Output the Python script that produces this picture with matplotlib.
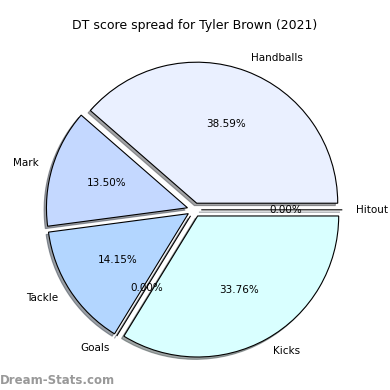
import matplotlib
matplotlib.use("Agg")
import matplotlib.pyplot as plt

# DT score spread, Tyler Brown (2021)
labels = ["Handballs", "Mark", "Tackle", "Goals", "Kicks", "Hitout"]
shares = [38.59, 13.50, 14.15, 0.00, 33.76, 0.00]
colors = ["#eaf0ff", "#c4d8ff", "#b3d6ff", "#a6ccff", "#d9ffff", "#cce6ff"]
explode = [0.05] * len(labels)

fig = plt.figure(figsize=(3.9, 3.9), dpi=100)
ax = fig.add_axes([0.046, 0.01, 0.904, 0.904])
ax.pie(shares, labels=labels, colors=colors, explode=explode,
       autopct="%.2f%%", shadow={"ox": -0.012, "oy": -0.012, "shade": 0.7},
       startangle=0, counterclock=True,
       wedgeprops={"edgecolor": "black", "linewidth": 0.8},
       textprops={"fontsize": 7.5})
ax.set_aspect("equal")
ax.set_title("DT score spread for Tyler Brown (2021)", fontsize=9, pad=3)
fig.text(0.0, 0.008, "Dream-Stats.com", fontsize=8.5, color="#999999",
         fontweight="bold", ha="left", va="bottom")
fig.savefig("out.png", dpi=100)
